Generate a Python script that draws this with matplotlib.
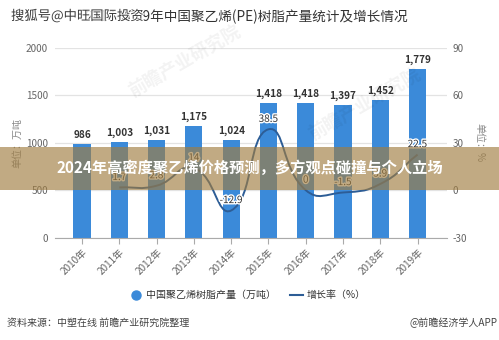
import matplotlib
matplotlib.use("Agg")
import matplotlib.pyplot as plt
import numpy as np
from matplotlib.path import Path
from matplotlib.patches import PathPatch, Rectangle
import matplotlib.patheffects as pe
from matplotlib.lines import Line2D

plt.rcParams['font.family'] = ['Noto Sans CJK SC', 'DejaVu Sans']

years = ["2010年", "2011年", "2012年", "2013年", "2014年", "2015年", "2016年", "2017年", "2018年", "2019年"]
production = [986, 1003, 1031, 1175, 1024, 1418, 1418, 1397, 1452, 1779]
prod_labels = ["986", "1,003", "1,031", "1,175", "1,024", "1,418", "1,418", "1,397", "1,452", "1,779"]
growth_idx = [1, 2, 3, 4, 5, 6, 7, 8, 9]
growth = [1.7, 2.8, 14, -12.9, 38.5, 0, -1.5, 3.9, 22.5]
left_ticks = [0, 500, 1000, 1500, 2000]
right_ticks = [-30, 0, 30, 60, 90]

W, H = 499, 340
fig = plt.figure(figsize=(W / 100, H / 100), dpi=100)
fig.patch.set_facecolor("white")

ax_l, ax_r, ax_t, ax_b = 55, 447, 48, 237.5
ax = fig.add_axes([ax_l / W, 1 - ax_b / H, (ax_r - ax_l) / W, (ax_b - ax_t) / H])
ax2 = ax.twinx()

x = np.arange(len(years))
bar_color = "#3b8ad9"
ax.bar(x, production, width=0.46, color=bar_color, zorder=2)
ax.set_ylim(0, 2000)
ax.set_xlim(-0.725, 9.79)
ax.set_yticks(left_ticks)
ax.set_yticklabels([str(v) for v in left_ticks])
ax.grid(axis="y", color="#e3e3e3", linewidth=0.9, zorder=0)
ax.set_axisbelow(True)
for s in ["top", "left", "right"]:
    ax.spines[s].set_visible(False)
ax.spines["bottom"].set_color("#aaaaaa")
ax.tick_params(axis="y", length=0, labelsize=7.2, labelcolor="#666666", pad=5)
ax.set_xticks(x)
ax.set_xticklabels(years, rotation=45, ha="right", rotation_mode="anchor",
                   fontsize=7.2, color="#666666")
ax.tick_params(axis="x", length=4, color="#aaaaaa", pad=3)

for xi, v, lab in zip(x, production, prod_labels):
    ax.annotate(lab, (xi, v), xytext=(0, 3), textcoords="offset points",
                ha="center", va="bottom", fontsize=7.2, fontweight="bold",
                color="#333333", zorder=5)

ax2.set_ylim(-30, 90)
ax2.set_yticks(right_ticks)
ax2.set_yticklabels([str(v) for v in right_ticks])
for s in ["top", "left", "right", "bottom"]:
    ax2.spines[s].set_visible(False)
ax2.tick_params(axis="y", length=0, labelsize=7.2, labelcolor="#666666", pad=4)

# smooth curve through growth points (bezier, computed in display space)
line_color = "#2d5d96"
pts = ax2.transData.transform(np.column_stack([growth_idx, growth]))
n = len(pts)
smooth = 0.5
cps_prev, cps_next = [], []
for i in range(n):
    p = pts[i]
    prev = pts[i - 1] if i > 0 else p
    nxt = pts[i + 1] if i < n - 1 else p
    v = nxt - prev
    d0 = np.hypot(*(p - prev))
    d1 = np.hypot(*(p - nxt))
    tot = d0 + d1 if (d0 + d1) > 0 else 1
    cps_prev.append(p - v * smooth * d0 / tot)
    cps_next.append(p + v * smooth * d1 / tot)
verts = [pts[0]]
codes = [Path.MOVETO]
for i in range(n - 1):
    verts += [cps_next[i], cps_prev[i + 1], pts[i + 1]]
    codes += [Path.CURVE4] * 3
inv = ax2.transData.inverted()
verts_data = inv.transform(np.array(verts))
ax2.add_patch(PathPatch(Path(verts_data, codes), facecolor="none",
                        edgecolor=line_color, linewidth=1.4, zorder=3))

for xi, g in zip(growth_idx, growth):
    lab = f"{g:g}"
    ax2.annotate(lab, (xi, g), xytext=(0, 7.5), textcoords="offset points",
                 ha="center", va="center", fontsize=7.2, color="#333333",
                 path_effects=[pe.withStroke(linewidth=2, foreground="white")],
                 zorder=6)

# axis titles
fig.text(17 / W, 1 - 143 / H, "单位：万吨", rotation=90, ha="center", va="center",
         fontsize=7.2, color="#888888")
fig.text(479 / W, 1 - 143 / H, "单位：%", rotation=-90, ha="center", va="center",
         fontsize=7.2, color="#888888")

# faint watermarks
fig.text(185 / W, 1 - 62 / H, "前瞻产业研究院", rotation=30, ha="center", va="center",
         fontsize=13, color="#000000", alpha=0.05, fontweight="bold")
fig.text(365 / W, 1 - 105 / H, "前瞻产业研究院", rotation=30, ha="center", va="center",
         fontsize=13, color="#000000", alpha=0.05, fontweight="bold")

# title
fig.text(247 / W, 1 - 17 / H, "2010-2019年中国聚乙烯(PE)树脂产量统计及增长情况",
         ha="center", va="center", fontsize=9.8, color="#333333")
fig.text(11 / W, 1 - 16 / H, "搜狐号@中旺国际投资", ha="left", va="center",
         fontsize=9.6, color="#3a3a3a",
         path_effects=[pe.withStroke(linewidth=1.5, foreground="white")], zorder=12)

# legend
fig.add_artist(Line2D([136 / W], [1 - 295 / H], marker="o", markersize=6.5,
                      color=bar_color, linestyle="none"))
fig.text(146 / W, 1 - 295 / H, "中国聚乙烯树脂产量（万吨）", ha="left", va="center",
         fontsize=7.2, color="#333333")
fig.add_artist(Line2D([290 / W, 303 / W], [1 - 295 / H, 1 - 295 / H],
                      color=line_color, linewidth=1.5))
fig.text(307 / W, 1 - 295 / H, "增长率（%）", ha="left", va="center",
         fontsize=7.2, color="#333333")

# source
fig.text(7 / W, 1 - 323 / H, "资料来源：中塑在线 前瞻产业研究院整理", ha="left", va="center",
         fontsize=7.2, color="#444444")
fig.text(497 / W, 1 - 323 / H, "@前瞻经济学人APP", ha="right", va="center",
         fontsize=7.2, color="#444444")

# overlay banner
banner = Rectangle((0, 1 - 190 / H), 1, 43 / H, transform=fig.transFigure,
                   facecolor=(160 / 255, 125 / 255, 65 / 255), alpha=0.65,
                   edgecolor="none", zorder=10)
fig.add_artist(banner)
fig.text(250 / W, 1 - 168 / H, "2024年高密度聚乙烯价格预测，多方观点碰撞与个人立场",
         ha="center", va="center", fontsize=11, fontweight="bold", color="white",
         zorder=11)

fig.savefig("out.png", dpi=100)
